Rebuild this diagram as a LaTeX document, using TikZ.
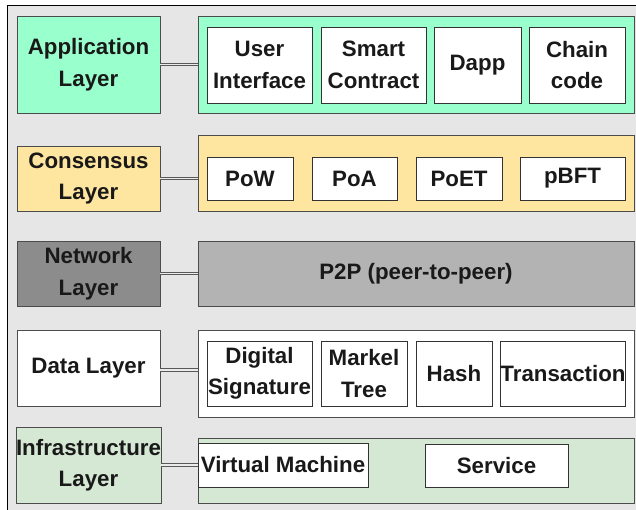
\documentclass[tikz,border=0pt]{standalone}
\usepackage{fontspec}
\setmainfont{Liberation Sans}
\begin{document}
\begin{tikzpicture}[x=1pt,y=-1pt,
  every node/.style={font=\bfseries\fontsize{22.3}{31.5}\selectfont, align=center, inner sep=0pt, text=black!90},
  layerbox/.style={draw=black!70, line width=0.9pt},
  itembox/.style={draw=black!80, fill=white, line width=0.8pt},
  link/.style={draw=black!65, line width=0.7pt, double=black!8, double distance=1.8pt}
]
\definecolor{bgc}{HTML}{E6E6E6}
\definecolor{appc}{HTML}{99FFCC}
\definecolor{consc}{HTML}{FFE6A0}
\definecolor{netl}{HTML}{8C8C8C}
\definecolor{netr}{HTML}{B3B3B3}
\definecolor{infc}{HTML}{D5E8D4}
\useasboundingbox (0,0) rectangle (636,510);
\begin{scope}
\clip (0,0) rectangle (636,510);
\draw[black, line width=0.9pt, fill=bgc] (7,5) rectangle (645,520);
\end{scope}

% layer names
\node[layerbox, fill=appc, minimum width=143, minimum height=97] (appL) at (88.5,64.5) {Application\\Layer};
\node[layerbox, fill=consc, minimum width=143, minimum height=65] (consL) at (88.5,178.5) {Consensus\\Layer};
\node[layerbox, fill=netl, minimum width=143, minimum height=65] (netL) at (88.5,273.5) {Network\\Layer};
\node[layerbox, fill=white, minimum width=143, minimum height=76] (dataL) at (88.5,368) {Data Layer};
\node[layerbox, fill=infc, minimum width=143, minimum height=76] (infL) at (88.5,465) {Infrastructure\\Layer};

% layer contents
\node[layerbox, fill=appc, minimum width=436, minimum height=97] (appR) at (416,64.5) {};
\node[layerbox, fill=consc, minimum width=436, minimum height=76] (consR) at (416,173) {};
\node[layerbox, fill=netr, minimum width=436, minimum height=65] (netR) at (416,273.5) {P2P (peer-to-peer)};
\node[layerbox, fill=white, minimum width=436, minimum height=87] (dataR) at (416,373.5) {};
\node[layerbox, fill=infc, minimum width=436, minimum height=65] (infR) at (416,470.5) {};

% application items
\node[itembox, minimum width=105, minimum height=76] (ui) at (259.5,65) {User\\Interface};
\node[itembox, minimum width=105, minimum height=76] (sc) at (373.5,65) {Smart\\Contract};
\node[itembox, minimum width=87, minimum height=76] (dapp) at (477.5,65) {Dapp};
\node[itembox, minimum width=96, minimum height=76] (cc) at (577,65) {Chain\\code};

% consensus items
\node[itembox, minimum width=86, minimum height=43] (pow) at (250,178.5) {PoW};
\node[itembox, minimum width=85, minimum height=43] (poa) at (354.5,178.5) {PoA};
\node[itembox, minimum width=86, minimum height=43] (poet) at (459,178.5) {PoET};
\node[itembox, minimum width=105, minimum height=43] (pbft) at (572.5,178.5) {pBFT};

% data items
\node[itembox, minimum width=105, minimum height=65] (ds) at (259.5,373.5) {Digital\\Signature};
\node[itembox, minimum width=86, minimum height=65] (mt) at (364,373.5) {Markel\\Tree};
\node[itembox, minimum width=76, minimum height=65] (hash) at (454,373.5) {Hash};
\node[itembox, minimum width=124, minimum height=65] (tx) at (563,373.5) {Transaction};

% infrastructure items
\node[itembox, minimum width=170, minimum height=44] (vm) at (283,465) {Virtual Machine};
\node[itembox, minimum width=143, minimum height=43] (svc) at (496.5,465.5) {Service};

% links between names and contents
\draw[link] (appL.east) -- (appL.east -| appR.west);
\draw[link] (consL.east) -- (consL.east -| consR.west);
\draw[link] (netL.east) -- (netL.east -| netR.west);
\draw[link] ([yshift=-2pt]dataL.east) -- ([yshift=-2pt]dataL.east -| dataR.west);
\draw[link] (infL.east) -- (infL.east -| infR.west);
\end{tikzpicture}
\end{document}
